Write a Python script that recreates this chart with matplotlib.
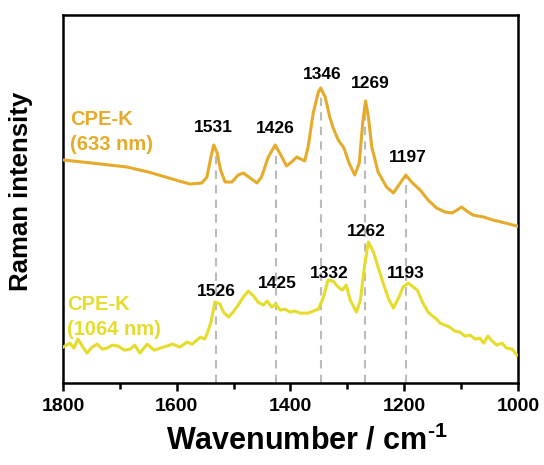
import numpy as np
import matplotlib.pyplot as plt

plt.rcParams['font.family'] = ['Liberation Sans', 'DejaVu Sans']
plt.rcParams['font.weight'] = 'bold'
plt.rcParams['mathtext.fontset'] = 'custom'
plt.rcParams['mathtext.rm'] = 'Liberation Sans:bold'
plt.rcParams['mathtext.default'] = 'rm'

# CPE-K, 633 nm excitation (wavenumber, intensity)
wn_633 = [1800, 1750, 1688, 1650, 1620, 1590, 1577, 1556, 1547, 1540, 1535,
          1529, 1523, 1515, 1503, 1492, 1483, 1471, 1459, 1451, 1439, 1427,
          1417, 1407, 1398, 1389, 1375, 1369, 1360, 1351, 1347, 1339, 1331,
          1325, 1316, 1306, 1297, 1287, 1279, 1273, 1268, 1263, 1257, 1246,
          1231, 1219, 1207, 1197, 1187, 1172, 1158, 1143, 1128, 1116, 1107,
          1099, 1090, 1079, 1060, 1044, 1022, 1002]
int_633 = [223, 220, 216, 211, 206, 201, 199, 200, 206, 226, 238,
           230, 213, 201, 201, 208, 210, 205, 200, 206, 226, 238,
           228, 217, 221, 226, 222, 236, 270, 291, 295, 286, 266,
           255, 243, 235, 220, 208, 220, 260, 282, 266, 236, 211,
           196, 190, 200, 208, 201, 193, 183, 175, 171, 170, 173,
           176, 172, 168, 166, 163, 160, 157]

# CPE-K, 1064 nm excitation (wavenumber, intensity)
wn_1064 = [1800, 1794, 1788, 1781, 1774, 1766, 1758, 1749, 1740, 1731, 1723,
           1713, 1703, 1692, 1682, 1674, 1665, 1658, 1652, 1640, 1629, 1618,
           1607, 1595, 1582, 1573, 1565, 1558, 1551, 1545, 1539, 1533, 1528,
           1524, 1518, 1509, 1501, 1492, 1483, 1474, 1465, 1457, 1448, 1441,
           1433, 1426, 1418, 1410, 1401, 1392, 1383, 1369, 1360, 1351, 1342,
           1334, 1325, 1316, 1309, 1302, 1295, 1284, 1277, 1270, 1263, 1254,
           1246, 1237, 1228, 1219, 1210, 1202, 1193, 1184, 1177, 1167, 1158,
           1150, 1143, 1137, 1128, 1120, 1111, 1102, 1093, 1084, 1075, 1067,
           1060, 1053, 1045, 1037, 1028, 1020, 1010, 1002]
int_1064 = [36, 38, 40, 35, 44, 37, 30, 36, 39, 34, 35,
            38, 37, 33, 34, 38, 30, 35, 39, 33, 35, 37,
            39, 36, 41, 39, 43, 46, 44, 52, 63, 81, 80,
            79, 71, 66, 71, 78, 86, 92, 87, 81, 78, 82,
            76, 79, 73, 74, 71, 72, 70, 70, 72, 74, 86,
            103, 102, 96, 93, 98, 83, 71, 83, 116, 141, 131,
            116, 100, 85, 75, 85, 96, 100, 96, 93, 80, 71,
            67, 64, 60, 58, 56, 52, 51, 47, 48, 44, 45,
            40, 47, 42, 38, 40, 35, 34, 28]

peaks_633 = [1531, 1426, 1346, 1269, 1197]
peaks_1064 = [1526, 1425, 1332, 1262, 1193]

c_633 = '#E6AB2A'
c_1064 = '#E6DC2C'

fig, ax = plt.subplots(figsize=(5.44, 4.65), dpi=100)
fig.subplots_adjust(left=0.116, right=0.952, top=0.968, bottom=0.176)

# dashed guides from axis bottom up to the 633 nm peaks
for p in peaks_633:
    ax.vlines(p, 0, np.interp(p, wn_633[::-1], int_633[::-1]),
              colors='#BBBBBB', linestyles=(0, (4, 3)), linewidth=1.5, zorder=1)

ax.plot(wn_633, int_633, color=c_633, linewidth=2.2, zorder=3)
ax.plot(wn_1064, int_1064, color=c_1064, linewidth=2.2, zorder=3)

# peak labels
lab_633 = [(1536, 248), (1426, 247), (1345, 301), (1260, 292), (1193, 218)]
for p, (x, y) in zip(peaks_633, lab_633):
    ax.text(x, y, str(p), ha='center', va='bottom', fontsize=12.5, fontweight='bold')
lab_1064 = [(1531, 84), (1424, 92), (1331, 102), (1267, 144), (1197, 102)]
for p, (x, y) in zip(peaks_1064, lab_1064):
    ax.text(x, y, str(p), ha='center', va='bottom', fontsize=12.5, fontweight='bold')

ax.text(1788, 229, 'CPE-K\n(633 nm)', color=c_633, fontsize=14.5, fontweight='bold',
        ha='left', va='bottom', linespacing=1.4)
ax.text(1793, 44, 'CPE-K\n(1064 nm)', color=c_1064, fontsize=14.5, fontweight='bold',
        ha='left', va='bottom', linespacing=1.4)

ax.set_xlim(1800, 1000)
ax.set_ylim(0, 368)
ax.set_xticks([1800, 1600, 1400, 1200, 1000])
ax.set_xticks([1700, 1500, 1300, 1100], minor=True)
ax.set_yticks([])
ax.tick_params(axis='x', which='major', direction='out', length=6, width=1.8,
               labelsize=14, pad=5)
ax.tick_params(axis='x', which='minor', direction='out', length=4, width=1.8)
for s in ax.spines.values():
    s.set_linewidth(1.8)

ax.set_xlabel('Wavenumber / cm$^{\u2010 1}$', fontsize=22, fontweight='bold')
ax.xaxis.set_label_coords(0.536, -0.115)
ax.set_ylabel('Raman intensity', fontsize=18.5, fontweight='bold')
ax.yaxis.set_label_coords(-0.066, 0.52)

plt.savefig('out.png', dpi=100)
